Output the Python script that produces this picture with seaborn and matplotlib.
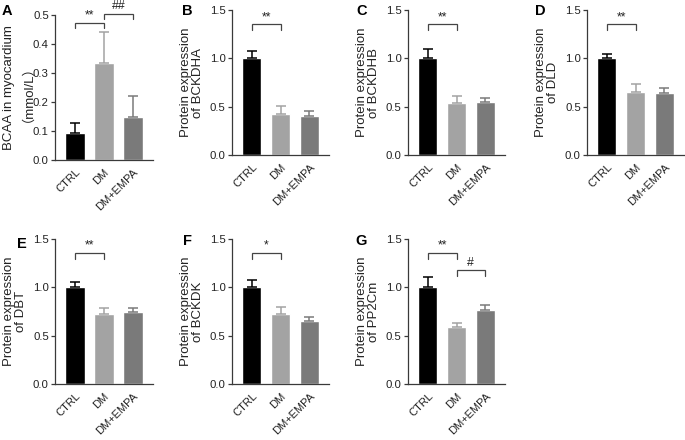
import numpy as np
import pandas as pd
import matplotlib
matplotlib.use("Agg")
import matplotlib.pyplot as plt
import seaborn as sns

# ---------------- data ----------------
groups = ["CTRL", "DM", "DM+EMPA"]

bcaa_mean = [0.092, 0.334, 0.147]
bcaa_err = [0.036, 0.109, 0.074]

bckdha_mean = [1.00, 0.420, 0.407]
bckdha_err = [0.076, 0.087, 0.048]

bckdhb_mean = [1.00, 0.534, 0.552]
bckdhb_err = [0.100, 0.073, 0.038]

dld_mean = [1.00, 0.655, 0.645]
dld_err = [0.048, 0.083, 0.045]

dbt_mean = [1.00, 0.719, 0.743]
dbt_err = [0.054, 0.071, 0.042]

bckdk_mean = [1.00, 0.719, 0.653]
bckdk_err = [0.075, 0.081, 0.037]

pp2cm_mean = [1.00, 0.588, 0.767]
pp2cm_err = [0.106, 0.048, 0.048]

panel_letters = ["A", "B", "C", "D", "E", "F", "G"]
ylabels = ["BCAA in myocardium\n\uff08mmol/L\uff09",
           "Protein expression\nof BCKDHA",
           "Protein expression\nof BCKDHB",
           "Protein expression\nof DLD",
           "Protein expression\nof DBT",
           "Protein expression\nof BCKDK",
           "Protein expression\nof PP2Cm"]
# significance: (i, j, label, bracket_y, leg_y)
sig_A = [(0, 1, "**", 0.474, 0.454), (1, 2, "##", 0.505, 0.486)]
sig_B = [(0, 1, "**", 1.352, 1.293)]
sig_C = [(0, 1, "**", 1.352, 1.293)]
sig_D = [(0, 1, "**", 1.352, 1.293)]
sig_E = [(0, 1, "**", 1.356, 1.297)]
sig_F = [(0, 1, "*", 1.356, 1.297)]
sig_G = [(0, 1, "**", 1.356, 1.297), (1, 2, "#", 1.176, 1.117)]

colors = ["#000000", "#a3a3a3", "#7a7a7a"]

# ---------------- style ----------------
sns.set_style("ticks")
plt.rcParams["font.family"] = ["Liberation Sans", "Noto Sans CJK SC"]
plt.rcParams["axes.linewidth"] = 0.9

W, H = 685, 440
fig = plt.figure(figsize=(W / 100, H / 100), dpi=100)


def rect(left, right, top, bottom):
    return [left / W, 1 - bottom / H, (right - left) / W, (bottom - top) / H]


panels = [
    (rect(55, 153, 15, 160), bcaa_mean, bcaa_err, sig_A, 0.5, 0.1, (2, 4)),
    (rect(232, 329, 10, 155), bckdha_mean, bckdha_err, sig_B, 1.5, 0.5, (182, 4)),
    (rect(408, 505, 10, 155), bckdhb_mean, bckdhb_err, sig_C, 1.5, 0.5, (356, 4)),
    (rect(587, 684, 10, 155), dld_mean, dld_err, sig_D, 1.5, 0.5, (535, 4)),
    (rect(55, 153, 239, 384), dbt_mean, dbt_err, sig_E, 1.5, 0.5, (17, 237)),
    (rect(232, 329, 239, 384), bckdk_mean, bckdk_err, sig_F, 1.5, 0.5, (183, 234)),
    (rect(408, 505, 239, 384), pp2cm_mean, pp2cm_err, sig_G, 1.5, 0.5, (355, 234)),
]

spine_col = "#3a3a3a"

for k, (r, means, errs, sigs, ymax, ystep, lpos) in enumerate(panels):
    ax = fig.add_axes(r)
    df = pd.DataFrame({"group": groups, "value": means})
    sns.barplot(data=df, x="group", y="value", hue="group", palette=colors,
                legend=False, width=0.66, ax=ax, saturation=1)
    for i, (m, e) in enumerate(zip(means, errs)):
        ax.errorbar(i, m, yerr=[[0], [e]], fmt="none", ecolor=colors[i],
                    elinewidth=1.1, capsize=3.6, capthick=1.1, zorder=1)
    ax.set_xlim(-0.69, 2.69)
    ax.set_ylim(0, ymax)
    ax.set_yticks(np.arange(0, ymax + ystep / 2, ystep))
    ax.yaxis.set_major_formatter(matplotlib.ticker.FormatStrFormatter("%.1f"))
    ax.set_xlabel("")
    ax.set_ylabel(ylabels[k], fontsize=9.5, labelpad=4, linespacing=1.0,
                  color="#222222")
    ax.tick_params(axis="y", labelsize=8.2, length=3, width=0.9,
                   color=spine_col, labelcolor="#222222", pad=1.5)
    ax.tick_params(axis="x", length=0, pad=5)
    ax.set_xticks(range(3))
    ax.set_xticklabels(groups, rotation=45, ha="right", va="top",
                       rotation_mode="anchor", fontsize=8, color="#222222")
    sns.despine(ax=ax)
    for s in ("left", "bottom"):
        ax.spines[s].set_color(spine_col)
    # significance brackets
    for (i, j, lab, by, ly) in sigs:
        ax.plot([i, i, j, j], [ly, by, by, ly], color="#444444", lw=0.9,
                clip_on=False, solid_joinstyle="miter")
        ax.text((i + j) / 2, by + ymax * 0.008, lab, ha="center", va="bottom",
                fontsize=8.8, color="#222222", clip_on=False)
    fig.text(lpos[0] / W, 1 - lpos[1] / H, panel_letters[k], fontsize=10.5,
             fontweight="bold", ha="left", va="top", color="#000000")

fig.savefig("out.png", dpi=100)
